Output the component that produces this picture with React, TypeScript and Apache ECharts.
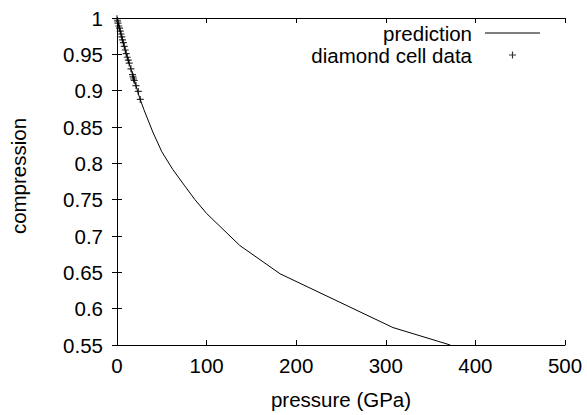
import React, { useEffect, useRef } from "react";
import * as echarts from "echarts";

// prediction curve: pressure (GPa), compression
const predPressure = [0, 5, 10, 15, 20, 25, 30, 40, 50, 62, 75, 87, 100, 137, 182, 308, 372];
const predCompression = [1.0, 0.975, 0.952, 0.932, 0.912, 0.891, 0.874, 0.843, 0.816, 0.792, 0.770, 0.750, 0.731, 0.687, 0.648, 0.574, 0.55];

// diamond cell data
const dataPressure = [0, 0.6, 1.1, 2.0, 2.8, 3.6, 4.5, 5.4, 6.1, 7.1, 8.1, 9.2, 10.3, 11.5, 12.6, 13.6, 15.6, 17.3, 17.9, 18.5, 19.3, 21.2, 23.8, 26.0];
const dataCompression = [0.999, 0.996, 0.993, 0.989, 0.986, 0.982, 0.978, 0.974, 0.970, 0.966, 0.961, 0.956, 0.951, 0.946, 0.942, 0.938, 0.930, 0.922, 0.919, 0.916, 0.914, 0.907, 0.899, 0.888];

const xTicks = [0, 100, 200, 300, 400, 500];
const yTicks = [0.55, 0.6, 0.65, 0.7, 0.75, 0.8, 0.85, 0.9, 0.95, 1];

const seriesNames = ["prediction", "diamond cell data"];
const xName = "pressure (GPa)";
const yName = "compression";

const FONT = "Liberation Sans, Arial, Helvetica, sans-serif";
const FS = 20.5;
const PLUS = "path://M2.5,0 H3.5 V2.5 H6 V3.5 H3.5 V6 H2.5 V3.5 H0 V2.5 H2.5 Z";
const THIN_LINE = "path://M0,0 H55 V1 H0 Z";

export default function App() {
  const ref = useRef<HTMLDivElement>(null);
  useEffect(() => {
    if (!ref.current) return;
    const chart = echarts.init(ref.current, undefined, { renderer: "svg" });
    const xStep = xTicks[1] - xTicks[0];
    const yStep = 0.05;
    const axisLine = { show: true, lineStyle: { color: "#000", width: 1 } };
    const axisTick = { show: true, inside: true, length: 5, lineStyle: { color: "#000", width: 1 } };
    chart.setOption({
      animation: false,
      backgroundColor: "#fff",
      textStyle: { fontFamily: FONT },
      grid: { left: 117, right: 22, top: 18, bottom: 63, containLabel: false },
      legend: {
        orient: "vertical",
        align: "right",
        right: 42,
        top: 17,
        itemWidth: 55,
        itemHeight: 7,
        itemGap: 0,
        textStyle: { fontSize: FS, color: "#000", fontFamily: FONT, lineHeight: 22, padding: [0, 8, 0, 0] },
        data: [
          { name: seriesNames[0], icon: THIN_LINE, itemStyle: { color: "#000" } },
          { name: seriesNames[1], icon: PLUS, itemStyle: { color: "#000" } },
        ],
      },
      xAxis: [
        {
          type: "value",
          min: xTicks[0],
          max: xTicks[xTicks.length - 1],
          interval: xStep,
          position: "bottom",
          name: xName,
          nameLocation: "middle",
          nameGap: 44,
          nameTextStyle: { fontSize: FS, color: "#000", fontFamily: FONT },
          axisLine,
          axisTick,
          splitLine: { show: false },
          axisLabel: { fontSize: FS, color: "#000", fontFamily: FONT, margin: 10 },
        },
        {
          type: "value",
          min: xTicks[0],
          max: xTicks[xTicks.length - 1],
          interval: xStep,
          position: "top",
          axisLine,
          axisTick,
          splitLine: { show: false },
          axisLabel: { show: false },
        },
      ],
      yAxis: [
        {
          type: "value",
          min: yTicks[0],
          max: yTicks[yTicks.length - 1],
          interval: yStep,
          position: "left",
          axisLine,
          axisTick,
          splitLine: { show: false },
          axisLabel: {
            fontSize: FS,
            color: "#000",
            fontFamily: FONT,
            margin: 14,
            formatter: (v: number) => String(+v.toFixed(2)),
          },
        },
        {
          type: "value",
          min: yTicks[0],
          max: yTicks[yTicks.length - 1],
          interval: yStep,
          position: "right",
          axisLine,
          axisTick,
          splitLine: { show: false },
          axisLabel: { show: false },
        },
      ],
      graphic: [
        {
          type: "text",
          x: 18,
          y: 176,
          rotation: Math.PI / 2,
          style: {
            text: yName,
            fontSize: FS,
            fontFamily: FONT,
            fill: "#000",
            align: "center",
            verticalAlign: "middle",
          },
        },
      ],
      series: [
        {
          name: seriesNames[0],
          type: "line",
          symbol: "none",
          clip: true,
          lineStyle: { color: "#000", width: 1 },
          itemStyle: { color: "#000" },
          data: predPressure.map((p, i) => [p, predCompression[i]]),
        },
        {
          name: seriesNames[1],
          type: "scatter",
          symbol: PLUS,
          symbolSize: 7,
          itemStyle: { color: "#000" },
          data: dataPressure.map((p, i) => [p, dataCompression[i]]),
        },
      ],
    });
    return () => chart.dispose();
  }, []);
  return (
    <div
      ref={ref}
      style={{ position: "absolute", left: 0, top: 0, width: 587, height: 415, background: "#fff" }}
    />
  );
}
